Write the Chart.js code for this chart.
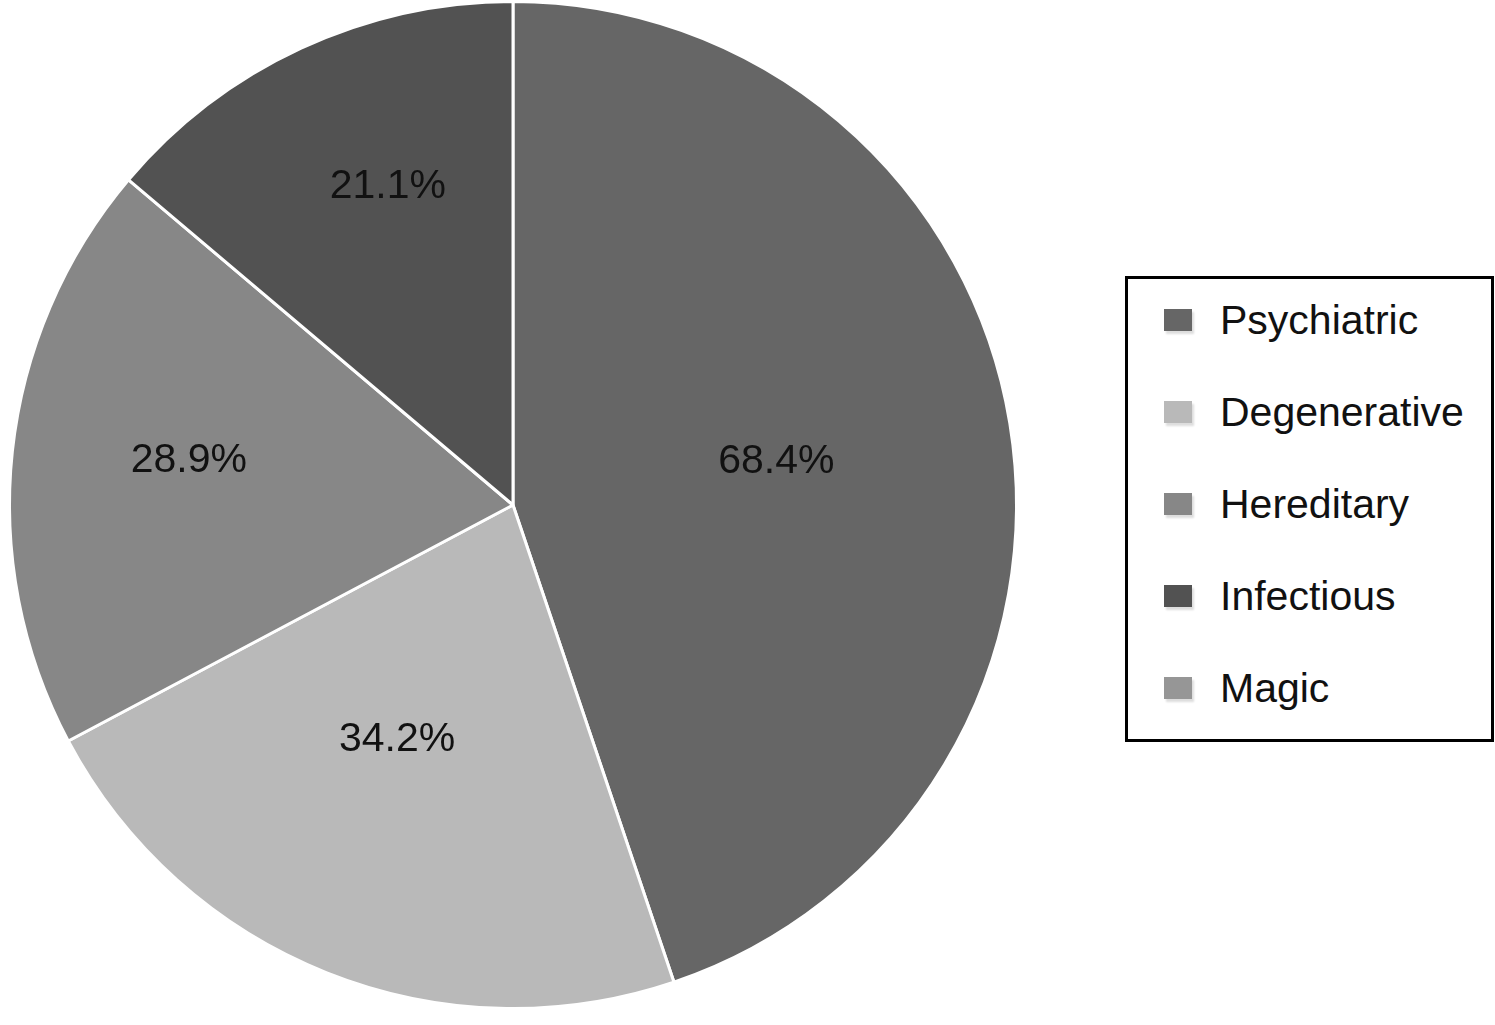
<!DOCTYPE html>
<html>
<head>
<meta charset="utf-8">
<script src="https://cdn.jsdelivr.net/npm/chart.js@4/dist/chart.umd.min.js"></script>
<style>
  html, body { margin: 0; padding: 0; background: #fff; }
  body { width: 1495px; height: 1025px; position: relative; overflow: hidden; font-family: "Liberation Sans", Arial, sans-serif; }
  #wrap { position: absolute; left: 0; top: 0; width: 1026px; height: 1025px; }
  #legend { position: absolute; left: 1125px; top: 276px; width: 369px; height: 466px; box-sizing: border-box; border: 3px solid #000; }
  .row { position: absolute; left: 0; height: 92px; display: flex; align-items: center; }
  .mark { position: absolute; left: 36px; width: 28px; height: 22px; box-shadow: 2px 3px 2px #ddd; }
  .txt { position: absolute; left: 92px; font-size: 41px; color: #111; white-space: nowrap; }
</style>
</head>
<body>
<div id="wrap"><canvas id="pie"></canvas></div>
<div id="legend"></div>
<script>
// categories and values (percent of respondents, multiple answers)
const categories = ['Psychiatric', 'Degenerative', 'Hereditary', 'Infectious', 'Magic'];
const values = [68.4, 34.2, 28.9, 21.1, 0];
const colors = ['#666666', '#b9b9b9', '#878787', '#525252', '#969696'];

// label distance from centre (fraction of radius) and small angle nudge (rad)
const labelPos = [0.53, 0.52, 0.65, 0.68, 0.6];
const labelTurn = [0, 0.08, 0.03, 0.06, 0];

const sliceLabels = {
  id: 'sliceLabels',
  afterDatasetsDraw(chart) {
    const ctx = chart.ctx;
    const meta = chart.getDatasetMeta(0);
    ctx.save();
    ctx.font = '41px "Liberation Sans", Arial, sans-serif';
    ctx.fillStyle = '#111';
    ctx.textAlign = 'center';
    ctx.textBaseline = 'middle';
    meta.data.forEach((arc, i) => {
      if (!values[i]) return;
      const p = arc.getProps(['x', 'y', 'startAngle', 'endAngle', 'outerRadius']);
      const a = (p.startAngle + p.endAngle) / 2 + labelTurn[i];
      const r = p.outerRadius * labelPos[i];
      ctx.fillText(values[i].toFixed(1) + '%', p.x + Math.cos(a) * r, p.y + Math.sin(a) * r);
    });
    ctx.restore();
  }
};

new Chart(document.getElementById('pie'), {
  type: 'pie',
  data: {
    labels: categories,
    datasets: [{
      data: values,
      backgroundColor: colors,
      borderColor: '#ffffff',
      borderWidth: 3
    }]
  },
  options: {
    responsive: true,
    maintainAspectRatio: false,
    animation: false,
    layout: { padding: { top: 0, bottom: 15, left: 0, right: 0 } },
    plugins: {
      legend: { display: false },
      tooltip: { enabled: false }
    }
  },
  plugins: [sliceLabels]
});

// legend box
const legendDiv = document.getElementById('legend');
categories.forEach((c, i) => {
  const row = document.createElement('div');
  row.className = 'row';
  row.style.top = (41 + 92 * i - 46) + 'px';
  row.innerHTML = `<div class="mark" style="background:${colors[i]}"></div><div class="txt">${c}</div>`;
  legendDiv.appendChild(row);
});
</script>
</body>
</html>
